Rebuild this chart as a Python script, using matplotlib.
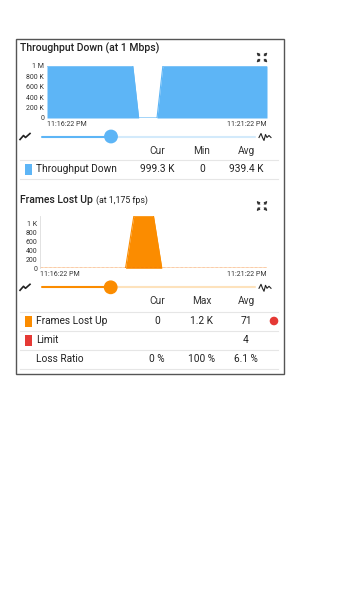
import numpy as np
import matplotlib
matplotlib.use("Agg")
from matplotlib import pyplot as plt
from matplotlib.patches import Rectangle, Circle

plt.rcParams['font.family'] = ['Roboto', 'DejaVu Sans']

W, H = 360, 612

# data: seconds since 11:16:22 PM
thr_t = [0, 117, 125, 150, 158, 300]
thr_v = [999.3e3, 999.3e3, 0, 0, 999.3e3, 999.3e3]
fl_t = [0, 113, 124, 150, 161, 300]
fl_v = [0, 0, 1175, 1175, 0, 0]
limit_v = 4
time_labels = ['11:16:22 PM', '11:21:22 PM']

thr_yticks = [0, 200e3, 400e3, 600e3, 800e3, 1e6]
thr_ylabels = ['0', '200 K', '400 K', '600 K', '800 K', '1 M']
fl_yticks = [0, 200, 400, 600, 800, 1000]
fl_ylabels = ['0', '200', '400', '600', '800', '1 K']

thr_cols = ['Cur', 'Min', 'Avg']
thr_rows = [('Throughput Down', ['999.3 K', '0', '939.4 K'])]
fl_cols = ['Cur', 'Max', 'Avg']
fl_rows = [('Frames Lost Up', ['0', '1.2 K', '71']),
           ('Limit', ['', '', '4']),
           ('Loss Ratio', ['0 %', '100 %', '6.1 %'])]

blue = '#5DB5F6'
blue_light = '#D3EAFB'
orange = '#FB8C00'
orange_light = '#FDE2BC'
red = '#E53935'
grid_c = '#E6E6E6'

fig = plt.figure(figsize=(W / 100, H / 100), dpi=100)

bg = fig.add_axes([0, 0, 1, 1])
bg.set_xlim(0, W)
bg.set_ylim(H, 0)
bg.axis('off')


def add_ax(x0, y0, x1, y1):
    return fig.add_axes([x0 / W, 1 - y1 / H, (x1 - x0) / W, (y1 - y0) / H])


# card
bg.add_patch(Rectangle((15.5, 39), 268.5, 334.5, fill=False, ec='#555555', lw=1))


def expand_icon(cx, cy):
    for dx, dy in [(-1, -1), (1, -1), (-1, 1), (1, 1)]:
        bg.annotate('', xy=(cx + dx * 5.5, cy + dy * 5), xytext=(cx + dx * 2.2, cy + dy * 1.8),
                    arrowprops=dict(arrowstyle='-|>', color='#333333', lw=0.8,
                                    mutation_scale=4, shrinkA=0, shrinkB=0))


def slider(y, cx, dark, light):
    bg.plot([42, cx], [y, y], color=dark, lw=1.5, solid_capstyle='round')
    bg.plot([cx, 255], [y, y], color=light, lw=1.5, solid_capstyle='round')
    bg.add_patch(Circle((cx, y), 6.2, color=dark, zorder=5))
    # trend icon
    bg.plot([20, 23.5, 25.5, 30], [y + 3, y - 1, y + 1, y - 3], color='#222222', lw=1.2)
    # waveform icon
    bg.plot([259, 261, 262.5, 264, 265.5, 267, 269, 271],
            [y + 1, y - 3, y + 1, y + 4, y - 2, y + 1, y - 1, y + 1], color='#222222', lw=0.8)


def table(y_head, cols, rows, y_first, step, swatches):
    xs = [157, 202, 246]
    for x, c in zip(xs, cols):
        bg.text(x, y_head, c, ha='center', va='center', fontsize=7.3, color='#333333')
    bg.plot([20, 278], [y_first - step / 2, y_first - step / 2], color=grid_c, lw=0.8)
    for i, (name, vals) in enumerate(rows):
        y = y_first + i * step
        if swatches[i]:
            bg.add_patch(Rectangle((25, y - 5.5), 6.5, 11, color=swatches[i], lw=0))
        bg.text(36.5, y, name, ha='left', va='center', fontsize=7.3, color='#222222')
        for x, v in zip(xs, vals):
            bg.text(x, y, v, ha='center', va='center', fontsize=7.3, color='#222222')
        bg.plot([20, 278], [y + step / 2, y + step / 2], color=grid_c, lw=0.8)


# ---------- Throughput Down ----------
bg.text(20, 48.5, 'Throughput Down (at 1 Mbps)', fontsize=7.5, fontweight='medium',
        ha='left', va='center', color='#222222')
expand_icon(262, 57.5)

ax1 = add_ax(47, 66, 267, 118)
ax1.fill_between(thr_t, thr_v, color=blue, lw=0)
ax1.plot(thr_t, thr_v, color=blue, lw=0.8)
ax1.set_xlim(0, 300)
ax1.set_ylim(0, 1e6)
ax1.set_yticks(thr_yticks, thr_ylabels, fontsize=5, color='#333333')
ax1.set_xticks([0, 300], time_labels, fontsize=5, color='#333333')
ax1.tick_params(length=0, pad=2)
ax1.get_xticklabels()[0].set_ha('left')
ax1.get_xticklabels()[1].set_ha('right')
for s in ax1.spines.values():
    s.set_visible(False)

slider(136.5, 111, blue, blue_light)
table(151, thr_cols, thr_rows, 169.5, 19.5, [blue])

# ---------- Frames Lost Up ----------
bg.text(20, 200, 'Frames Lost Up', fontsize=7.5, fontweight='medium',
        ha='left', va='center', color='#222222')
bg.text(96, 200, '(at 1,175 fps)', fontsize=6.3, ha='left', va='center', color='#222222')
expand_icon(262, 206)

ax2 = add_ax(40, 216, 267, 268.3)
ax2.fill_between(fl_t, fl_v, color=orange, lw=0)
ax2.plot(fl_t, fl_v, color=orange, lw=0.8)
ax2.axhline(limit_v, color=red, lw=0.9, ls=(0, (2, 1.5)))
ax2.set_xlim(0, 300)
ax2.set_ylim(0, 1180)
ax2.set_yticks(fl_yticks, fl_ylabels, fontsize=5, color='#333333')
ax2.set_xticks([0, 300], time_labels, fontsize=5, color='#333333')
ax2.tick_params(length=0, pad=2)
ax2.get_xticklabels()[0].set_ha('left')
ax2.get_xticklabels()[1].set_ha('right')
for s in ax2.spines.values():
    s.set_visible(False)
ax2.spines['left'].set_visible(True)
ax2.spines['left'].set_color('#DDDDDD')
ax2.spines['left'].set_linewidth(0.6)

slider(287.3, 110.7, orange, orange_light)
table(301.5, fl_cols, fl_rows, 321, 19, [orange, red, None])
bg.add_patch(Circle((274, 321), 3.6, color=red))

fig.savefig('out.png', dpi=100)
